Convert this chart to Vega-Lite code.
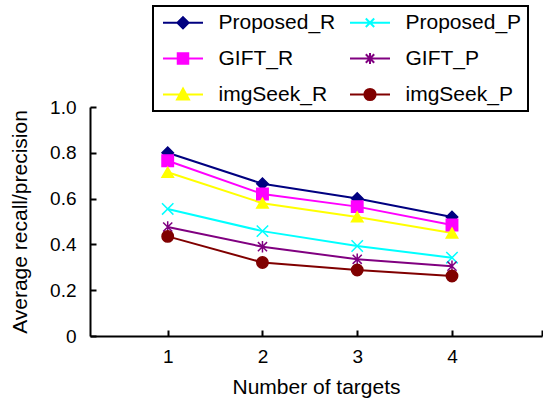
{
  "$schema": "https://vega.github.io/schema/vega-lite/v6.json",
  "autosize": {"type": "none"},
  "padding": {"left": 90, "top": 107, "right": 1, "bottom": 65},
  "width": 452,
  "height": 229,
  "background": "white",
  "config": {
    "view": {"stroke": null},
    "font": "Liberation Sans",
    "axis": {"grid": false, "domainColor": "black", "domainWidth": 2, "tickColor": "black", "tickWidth": 2, "labelColor": "black", "titleColor": "black", "labelFont": "Liberation Sans", "titleFont": "Liberation Sans", "titleFontWeight": "normal", "labelFontSize": 19, "titleFontSize": 21}
  },
  "data": {
    "values": [
      {"targets": 1, "value": 0.80, "series": "Proposed_R"},
      {"targets": 2, "value": 0.665, "series": "Proposed_R"},
      {"targets": 3, "value": 0.60, "series": "Proposed_R"},
      {"targets": 4, "value": 0.52, "series": "Proposed_R"},
      {"targets": 1, "value": 0.765, "series": "GIFT_R"},
      {"targets": 2, "value": 0.62, "series": "GIFT_R"},
      {"targets": 3, "value": 0.565, "series": "GIFT_R"},
      {"targets": 4, "value": 0.485, "series": "GIFT_R"},
      {"targets": 1, "value": 0.715, "series": "imgSeek_R"},
      {"targets": 2, "value": 0.58, "series": "imgSeek_R"},
      {"targets": 3, "value": 0.52, "series": "imgSeek_R"},
      {"targets": 4, "value": 0.45, "series": "imgSeek_R"},
      {"targets": 1, "value": 0.555, "series": "Proposed_P"},
      {"targets": 2, "value": 0.458, "series": "Proposed_P"},
      {"targets": 3, "value": 0.393, "series": "Proposed_P"},
      {"targets": 4, "value": 0.342, "series": "Proposed_P"},
      {"targets": 1, "value": 0.476, "series": "GIFT_P"},
      {"targets": 2, "value": 0.39, "series": "GIFT_P"},
      {"targets": 3, "value": 0.335, "series": "GIFT_P"},
      {"targets": 4, "value": 0.305, "series": "GIFT_P"},
      {"targets": 1, "value": 0.435, "series": "imgSeek_P"},
      {"targets": 2, "value": 0.321, "series": "imgSeek_P"},
      {"targets": 3, "value": 0.288, "series": "imgSeek_P"},
      {"targets": 4, "value": 0.262, "series": "imgSeek_P"}
    ]
  },
  "encoding": {
    "x": {
      "field": "targets", "type": "quantitative",
      "scale": {"domain": [0.18, 4.95], "nice": false, "zero": false},
      "axis": {"title": "Number of targets", "values": [1, 2, 3, 4, 4.95], "labelExpr": "datum.value > 4.5 ? '' : datum.label", "tickSize": -6, "labelPadding": 17, "titlePadding": 10}
    },
    "y": {
      "field": "value", "type": "quantitative",
      "scale": {"domain": [0, 1], "nice": false},
      "axis": {"title": "Average recall/precision", "values": [0, 0.2, 0.4, 0.6, 0.8, 1.0], "labelExpr": "datum.value == 0 ? '0' : format(datum.value, '.1f')", "tickSize": -6, "labelPadding": 20, "titlePadding": 19}
    },
    "color": {
      "field": "series", "type": "nominal",
      "scale": {"domain": ["Proposed_R", "Proposed_P", "GIFT_R", "GIFT_P", "imgSeek_R", "imgSeek_P"], "range": ["#000080", "#00FFFF", "#FF00FF", "#800080", "#FFFF00", "#800000"]},
      "legend": {
        "title": null, "orient": "none", "direction": "horizontal", "legendX": 63, "legendY": -101, "columns": 2, "columnPadding": 10, "rowPadding": 14, "padding": 6,
        "strokeColor": "black", "fillColor": "white",
        "labelFont": "Liberation Sans", "labelFontSize": 21, "labelColor": "black", "labelLimit": 300,
        "symbolSize": 196, "symbolStrokeWidth": 2, "symbolOffset": 13.5, "labelOffset": 25,
        "encoding": {
          "legend": {"strokeWidth": {"value": 2}},
          "symbols": {
            "shape": {"value": {"expr": "datum.value === 'Proposed_R' ? 'M-2.857,0H2.857M0,-0.8L0.8,0L0,0.8L-0.8,0Z' : datum.value === 'Proposed_P' ? 'M-2.857,0H2.857M-0.6,-0.6L0.6,0.6M-0.6,0.6L0.6,-0.6' : datum.value === 'GIFT_R' ? 'M-2.857,0H2.857M-0.75,-0.75H0.75V0.75H-0.75Z' : datum.value === 'GIFT_P' ? 'M-2.857,0H2.857M-0.6,-0.6L0.6,0.6M-0.6,0.6L0.6,-0.6M0,-0.8V0.8' : datum.value === 'imgSeek_R' ? 'M-2.857,0H2.857M0,-0.85L0.85,0.7H-0.85Z' : 'M-2.857,0H2.857M-0.8,0A0.8,0.8,0,1,0,0.8,0A0.8,0.8,0,1,0,-0.8,0Z'"}},
            "fill": {"value": {"expr": "scale('color', datum.value)"}},
            "stroke": {"value": {"expr": "scale('color', datum.value)"}},
            "strokeWidth": {"value": 2},
            "opacity": {"value": 1},
            "fillOpacity": {"value": 1},
            "strokeOpacity": {"value": 1}
          }
        }
      }
    }
  },
  "layer": [
    {
      "mark": {"type": "line", "strokeWidth": 2}
    },
    {
      "mark": {"type": "point", "filled": true, "opacity": 1, "strokeWidth": 1.5, "size": 130},
      "encoding": {
        "shape": {
          "field": "series", "type": "nominal",
          "scale": {"domain": ["imgSeek_P", "imgSeek_R", "GIFT_P", "GIFT_R", "Proposed_P", "Proposed_R"], "range": ["circle", "triangle-up", "M-0.8,-0.8L0.8,0.8M-0.8,0.8L0.8,-0.8M0,-1V1", "square", "M-1,-1L1,1M-1,1L1,-1", "diamond"]},
          "legend": null
        },
        "stroke": {
          "field": "series", "type": "nominal",
          "scale": {"domain": ["GIFT_R", "GIFT_P", "Proposed_R", "Proposed_P", "imgSeek_R", "imgSeek_P"], "range": ["#FF00FF", "#800080", "#000080", "#00FFFF", "#FFFF00", "#800000"]},
          "legend": null
        }
      }
    }
  ]
}
